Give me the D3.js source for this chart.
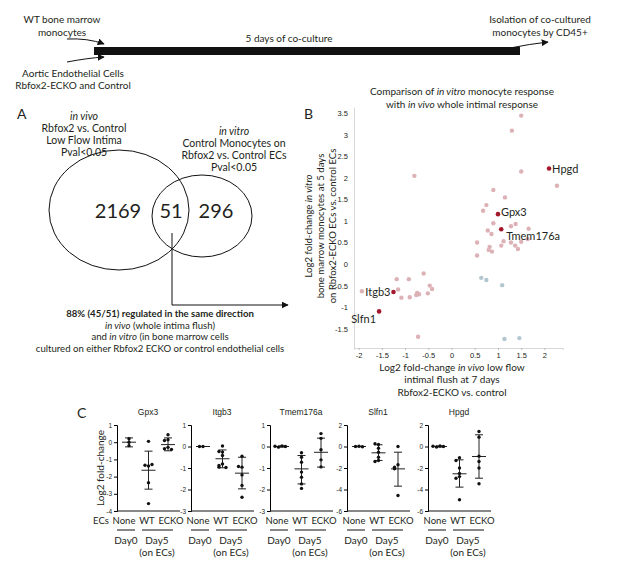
<!DOCTYPE html>
<html>
<head>
<meta charset="utf-8">
<script src="https://cdn.jsdelivr.net/npm/d3@7"></script>
<style>
body { margin: 0; background: #fff; }
text { font-family: Lato, "Open Sans", sans-serif; fill: #231f20; }
.tick text { font-family: "Liberation Sans", Arial, sans-serif; }
</style>
</head>
<body>
<svg id="fig" width="617" height="565"></svg>
<script>
// ---- data ----
var vennCounts = [2169, 51, 296];

// panel B: log2 fold-change in vivo (x) vs in vitro (y)
var pinkX = [1.5, 1.3, -0.8, 1.5, 2.27, 0.9, 1.15, 0.75, 0.68, 0.9, 1.28, 1.38, 1.66, 0.78, 0.86, 0.55, 1.12, 1.28, 1.5, 1.64, 0.82, 1.07, 1.37, 1.43, 0.8, 0.87, 0.55,
             -0.6, -1.18, -0.92, -0.47, -0.42, -1.15, -1.93, -0.74, -0.51, -0.76, -0.7, -1.08, -0.9, -0.72];
var pinkY = [3.45, 3.1, 2.05, 2.15, 1.82, 1.72, 1.55, 1.37, 1.24, 0.95, 0.88, 0.93, 0.82, 0.78, 0.7, 0.5, 0.53, 0.5, 0.52, 0.58, 0.4, 0.43, 0.43, 0.35, 0.33, 0.29, 0.2,
             -0.22, -0.35, -0.35, -0.5, -0.58, -0.59, -0.63, -0.67, -0.68, -0.72, -0.7, -0.78, -0.77, -1.69];
var blueX = [0.64, 0.75, 1.09, 1.14, 1.46];
var blueY = [-0.32, -0.37, -0.49, -1.74, -1.72];
var hiGenes = ['Hpgd', 'Gpx3', 'Tmem176a', 'Itgb3', 'Slfn1'];
var hiX = [2.1, 1.0, 1.07, -1.25, -1.56];
var hiY = [2.22, 1.16, 0.81, -0.65, -1.1];
var bTicksX = [-2, -1.5, -1, -0.5, 0, 0.5, 1, 1.5, 2];
var bTicksY = [-1.5, -1, -0.5, 0, 0.5, 1, 1.5, 2, 2.5, 3, 3.5];

// panel C: qPCR log2 fold-change
var groups = ['None', 'WT', 'ECKO'];
var genes = ['Gpx3', 'Itgb3', 'Tmem176a', 'Slfn1', 'Hpgd'];
var gpx3Pts = [[0.2, 0, -0.2], [0.05, -1.38, -1.34, -1.3, -2.36, -3.57], [0.43, 0.14, 0.1, -0.3, -0.38, -0.42]];
var itgb3Pts = [[0, 0], [0.02, -0.26, -0.23, -0.42, -0.81, -0.88, -0.96, -0.98], [-0.45, -0.96, -0.93, -1.32, -1.81, -2.36]];
var tmemPts = [[0.03, -0.03, 0, 0.01], [-0.29, -0.5, -0.73, -1.19, -1.43, -1.74, -1.95], [0.6, 0.38, -0.15, -0.62, -0.95]];
var slfn1Pts = [[0.02, 0, -0.02], [0.19, 0.25, -0.16, -0.53, -1.0, -1.3, -1.4], [0, -1.7, -1.92, -2.08, -4.56]];
var hpgdPts = [[0.05, -0.05, 0, 0.02], [-1.05, -1.3, -2.0, -2.5, -2.8, -2.95, -4.95], [1.4, 0.87, -0.9, -1.4, -2.0, -3.47]];
// mean, upper bar, lower bar
var gpx3Bars = [[0, 0.25, -0.27], [-1.63, -0.52, -2.73], [-0.14, 0.25, -0.5]];
var itgb3Bars = [[0, 0, 0], [-0.57, -0.16, -0.99], [-1.24, -0.5, -1.97]];
var tmemBars = [[0, 0.03, -0.03], [-1.04, -0.42, -1.74], [-0.27, 0.39, -0.96]];
var slfn1Bars = [[0, 0.02, -0.02], [-0.59, 0.16, -1.3], [-2.08, -0.53, -3.69]];
var hpgdBars = [[0, 0.05, -0.05], [-2.54, -1.24, -3.78], [-0.93, 1.09, -2.95]];
var cDomains = [[-4, 1], [-3, 1], [-3, 1], [-6, 2], [-6, 2]];
var cTicks = [[1, 0, -1, -2, -3, -4], [1, 0, -1, -2, -3], [1, 0, -1, -2, -3], [2, 0, -2, -4, -6], [2, 0, -2, -4, -6]];

var svg = d3.select('#fig');

// arrowhead marker
svg.append('defs').append('marker')
  .attr('id', 'head')
  .attr('viewBox', '0 0 10 10')
  .attr('refX', 9).attr('refY', 5)
  .attr('markerWidth', 7).attr('markerHeight', 7)
  .attr('markerUnits', 'userSpaceOnUse')
  .attr('orient', 'auto')
  .append('path').attr('d', 'M0,0L10,5L0,10z').attr('fill', '#111');

function lines(g, arr, x, y0, dy, size, anchor) {
  arr.forEach(function (s, i) {
    var t = g.append('text').attr('x', x).attr('y', y0 + i * dy)
      .attr('font-size', size).attr('text-anchor', anchor || 'middle');
    if (Array.isArray(s)) {
      s.forEach(function (p) {
        t.append('tspan').text(p[0]).attr('font-style', p[1] ? 'italic' : null).attr('font-weight', p[2] ? 'bold' : null);
      });
    } else t.text(s);
  });
}

// ---- timeline ----
var tl = svg.append('g');
tl.append('rect').attr('x', 94).attr('y', 47).attr('width', 426).attr('height', 8).attr('fill', '#111');
lines(tl, ['WT bone marrow', 'monocytes'], 62, 23, 13, 10);
lines(tl, ['Aortic Endothelial Cells', 'Rbfox2-ECKO and Control'], 73, 77, 12, 10);
lines(tl, ['5 days of co-culture'], 289, 42, 0, 10);
lines(tl, ['Isolation of co-cultured', 'monocytes by CD45+'], 540, 23, 13, 10);
tl.append('path').attr('d', 'M67,39Q88,38 104,44').attr('fill', 'none').attr('stroke', '#111').attr('marker-end', 'url(#head)');
tl.append('path').attr('d', 'M67,62Q88,58 104,57').attr('fill', 'none').attr('stroke', '#111').attr('marker-end', 'url(#head)');
tl.append('path').attr('d', 'M510,48Q530,44 548,42').attr('fill', 'none').attr('stroke', '#111').attr('marker-end', 'url(#head)');

// ---- panel A: venn ----
var a = svg.append('g');
a.append('text').attr('x', 17).attr('y', 119).attr('font-size', 14).text('A');
lines(a, [[['in vivo', 1]], 'Rbfox2 vs. Control', 'Low Flow Intima', 'Pval<0.05'], 84, 120, 12, 10.5);
lines(a, [[['in vitro', 1]], 'Control Monocytes on', 'Rbfox2 vs. Control ECs', 'Pval<0.05'], 234, 135, 12, 10.5);
a.append('ellipse').attr('cx', 119).attr('cy', 210).attr('rx', 70).attr('ry', 60).attr('fill', 'none').attr('stroke', '#111');
a.append('ellipse').attr('cx', 202).attr('cy', 216).attr('rx', 50).attr('ry', 41).attr('fill', 'none').attr('stroke', '#111');
[118, 171, 216].forEach(function (x, i) {
  a.append('text').attr('x', x).attr('y', 218).attr('font-size', 20).attr('text-anchor', 'middle').text(vennCounts[i]);
});
a.append('path').attr('d', 'M172,233V305H288').attr('fill', 'none').attr('stroke', '#111').attr('marker-end', 'url(#head)');
lines(a, [[['88% (45/51) regulated in the same direction', 0, 1]],
  [['in vivo', 1], [' (whole intima flush)']],
  [['and '], ['in vitro', 1], [' (in bone marrow cells']],
  'cultured on either Rbfox2 ECKO or control endothelial cells'], 160, 317, 11.5, 9.6);

// ---- panel B: scatter ----
var b = svg.append('g');
b.append('text').attr('x', 304).attr('y', 119).attr('font-size', 14).text('B');
lines(b, [[['Comparison of '], ['in vitro', 1], [' monocyte response']], [['with '], ['in vivo', 1], [' whole intimal response']]], 462, 95, 13, 10);
var bx = d3.scaleLinear().domain([-2.1, 2.4]).range([354, 563]);
var by = d3.scaleLinear().domain([-1.95, 3.65]).range([348, 107]);
var gx = b.append('g').attr('transform', 'translate(0,348)')
  .call(d3.axisBottom(bx).tickValues(bTicksX).tickSize(2).tickFormat(function (d) { return String(d); }));
var gy = b.append('g').attr('transform', 'translate(354,0)')
  .call(d3.axisLeft(by).tickValues(bTicksY).tickSize(0).tickPadding(6).tickFormat(function (d) { return String(d); }));
[gx, gy].forEach(function (g) {
  g.selectAll('.domain').attr('stroke', '#d8d8d8');
  g.selectAll('.tick line').attr('stroke', '#bbb');
  g.selectAll('.tick text').attr('font-size', 7.5).attr('fill', '#333');
});
lines(b, [[['Log2 fold-change '], ['in vivo', 1], [' low flow']], 'intimal flush at 7 days', 'Rbfox2-ECKO vs. control'], 452, 371, 12.3, 10);
var yl = b.append('g').attr('transform', 'translate(312,226) rotate(-90)');
lines(yl, [[['Log2 fold-change '], ['in vitro', 1]], 'bone marrow monocytes at 5 days', 'on Rbfox2-ECKO ECs vs. control ECs'], 0, 0, 12, 9.6);

b.append('g').selectAll('circle').data(d3.range(pinkX.length)).join('circle')
  .attr('cx', function (i) { return bx(pinkX[i]); }).attr('cy', function (i) { return by(pinkY[i]); })
  .attr('r', 2.2).attr('fill', '#dcb2b6');
b.append('g').selectAll('circle').data(d3.range(blueX.length)).join('circle')
  .attr('cx', function (i) { return bx(blueX[i]); }).attr('cy', function (i) { return by(blueY[i]); })
  .attr('r', 2.2).attr('fill', '#b3c7cf');
b.append('g').selectAll('circle').data(d3.range(hiGenes.length)).join('circle')
  .attr('cx', function (i) { return bx(hiX[i]); }).attr('cy', function (i) { return by(hiY[i]); })
  .attr('r', 2.3).attr('fill', '#a3182b');
// label offsets for the highlighted genes
var labDx = [3, 3, 5, -3, -3], labDy = [4, 2, 11, 4, 12], labAnchor = ['start', 'start', 'start', 'end', 'end'];
b.append('g').selectAll('text').data(d3.range(hiGenes.length)).join('text')
  .attr('x', function (i) { return bx(hiX[i]) + labDx[i]; })
  .attr('y', function (i) { return by(hiY[i]) + labDy[i]; })
  .attr('text-anchor', function (i) { return labAnchor[i]; })
  .attr('font-size', 11).text(function (i) { return hiGenes[i]; });

// ---- panel C: dot plots ----
var c = svg.append('g');
c.append('text').attr('x', 77).attr('y', 418).attr('font-size', 14).text('C');
var cPts = [gpx3Pts, itgb3Pts, tmemPts, slfn1Pts, hpgdPts];
var cBars = [gpx3Bars, itgb3Bars, tmemBars, slfn1Bars, hpgdBars];
var axisX = [117, 191, 270, 347, 428];
c.append('text').attr('x', 101).attr('y', 524).attr('font-size', 9.5).attr('text-anchor', 'middle').text('ECs');
c.append('text').attr('transform', 'translate(104,468) rotate(-90)').attr('font-size', 10).attr('text-anchor', 'middle').text('Log2 fold-change');

genes.forEach(function (gene, k) {
  var x0 = axisX[k];
  var g = c.append('g');
  var y = d3.scaleLinear().domain(cDomains[k]).range([511, 425]);
  var x = d3.scalePoint().domain(groups).range([x0 + 12, x0 + 51]);
  g.append('text').attr('x', x0 + 31).attr('y', 415).attr('font-size', 8.5).attr('fill', '#555')
    .attr('text-anchor', 'middle').style('font-family', '"Liberation Sans", Arial, sans-serif').text(gene);
  var ya = g.append('g').attr('transform', 'translate(' + x0 + ',0)')
    .call(d3.axisLeft(y).tickValues(cTicks[k]).tickSize(3).tickPadding(2).tickFormat(function (d) { return String(d); }));
  ya.selectAll('.tick text').attr('font-size', 6.5).attr('fill', '#444');
  g.append('line').attr('x1', x0).attr('x2', x0 + 63).attr('y1', 511).attr('y2', 511).attr('stroke', '#111');

  groups.forEach(function (grp, j) {
    var cx = x(grp), bar = cBars[k][j];
    g.append('line').attr('x1', cx).attr('x2', cx).attr('y1', y(bar[1])).attr('y2', y(bar[2])).attr('stroke', '#222');
    g.append('line').attr('x1', cx - 4).attr('x2', cx + 4).attr('y1', y(bar[1])).attr('y2', y(bar[1])).attr('stroke', '#222');
    g.append('line').attr('x1', cx - 4).attr('x2', cx + 4).attr('y1', y(bar[2])).attr('y2', y(bar[2])).attr('stroke', '#222');
    g.append('line').attr('x1', cx - 7).attr('x2', cx + 7).attr('y1', y(bar[0])).attr('y2', y(bar[0])).attr('stroke', '#222');
    // spread dots that sit at nearly the same height
    var placed = [];
    cPts[k][j].forEach(function (v) {
      var py = y(v);
      var n = placed.filter(function (q) { return Math.abs(q - py) < 3; }).length;
      placed.push(py);
      var off = n === 0 ? 0 : (n % 2 ? -1 : 1) * 3.5 * Math.ceil(n / 2);
      g.append('circle').attr('cx', cx + off).attr('cy', py).attr('r', 1.7).attr('fill', '#111');
    });
  });

  // category labels sit at fixed offsets from the axis
  var labX = [7, 30, 54];
  groups.forEach(function (grp, j) {
    g.append('text').attr('x', x0 + labX[j]).attr('y', 524).attr('font-size', 9.5)
      .attr('text-anchor', 'middle').text(grp);
  });
  g.append('line').attr('x1', x0).attr('x2', x0 + 18).attr('y1', 530).attr('y2', 530).attr('stroke', '#111');
  g.append('line').attr('x1', x0 + 25).attr('x2', x0 + 56).attr('y1', 530).attr('y2', 530).attr('stroke', '#111');
  g.append('text').attr('x', x0 + 9).attr('y', 544).attr('font-size', 10).attr('text-anchor', 'middle').text('Day0');
  g.append('text').attr('x', x0 + 40).attr('y', 544).attr('font-size', 10).attr('text-anchor', 'middle').text('Day5');
  g.append('text').attr('x', x0 + 40).attr('y', 556).attr('font-size', 10).attr('text-anchor', 'middle').text('(on ECs)');
});
</script>
</body>
</html>
